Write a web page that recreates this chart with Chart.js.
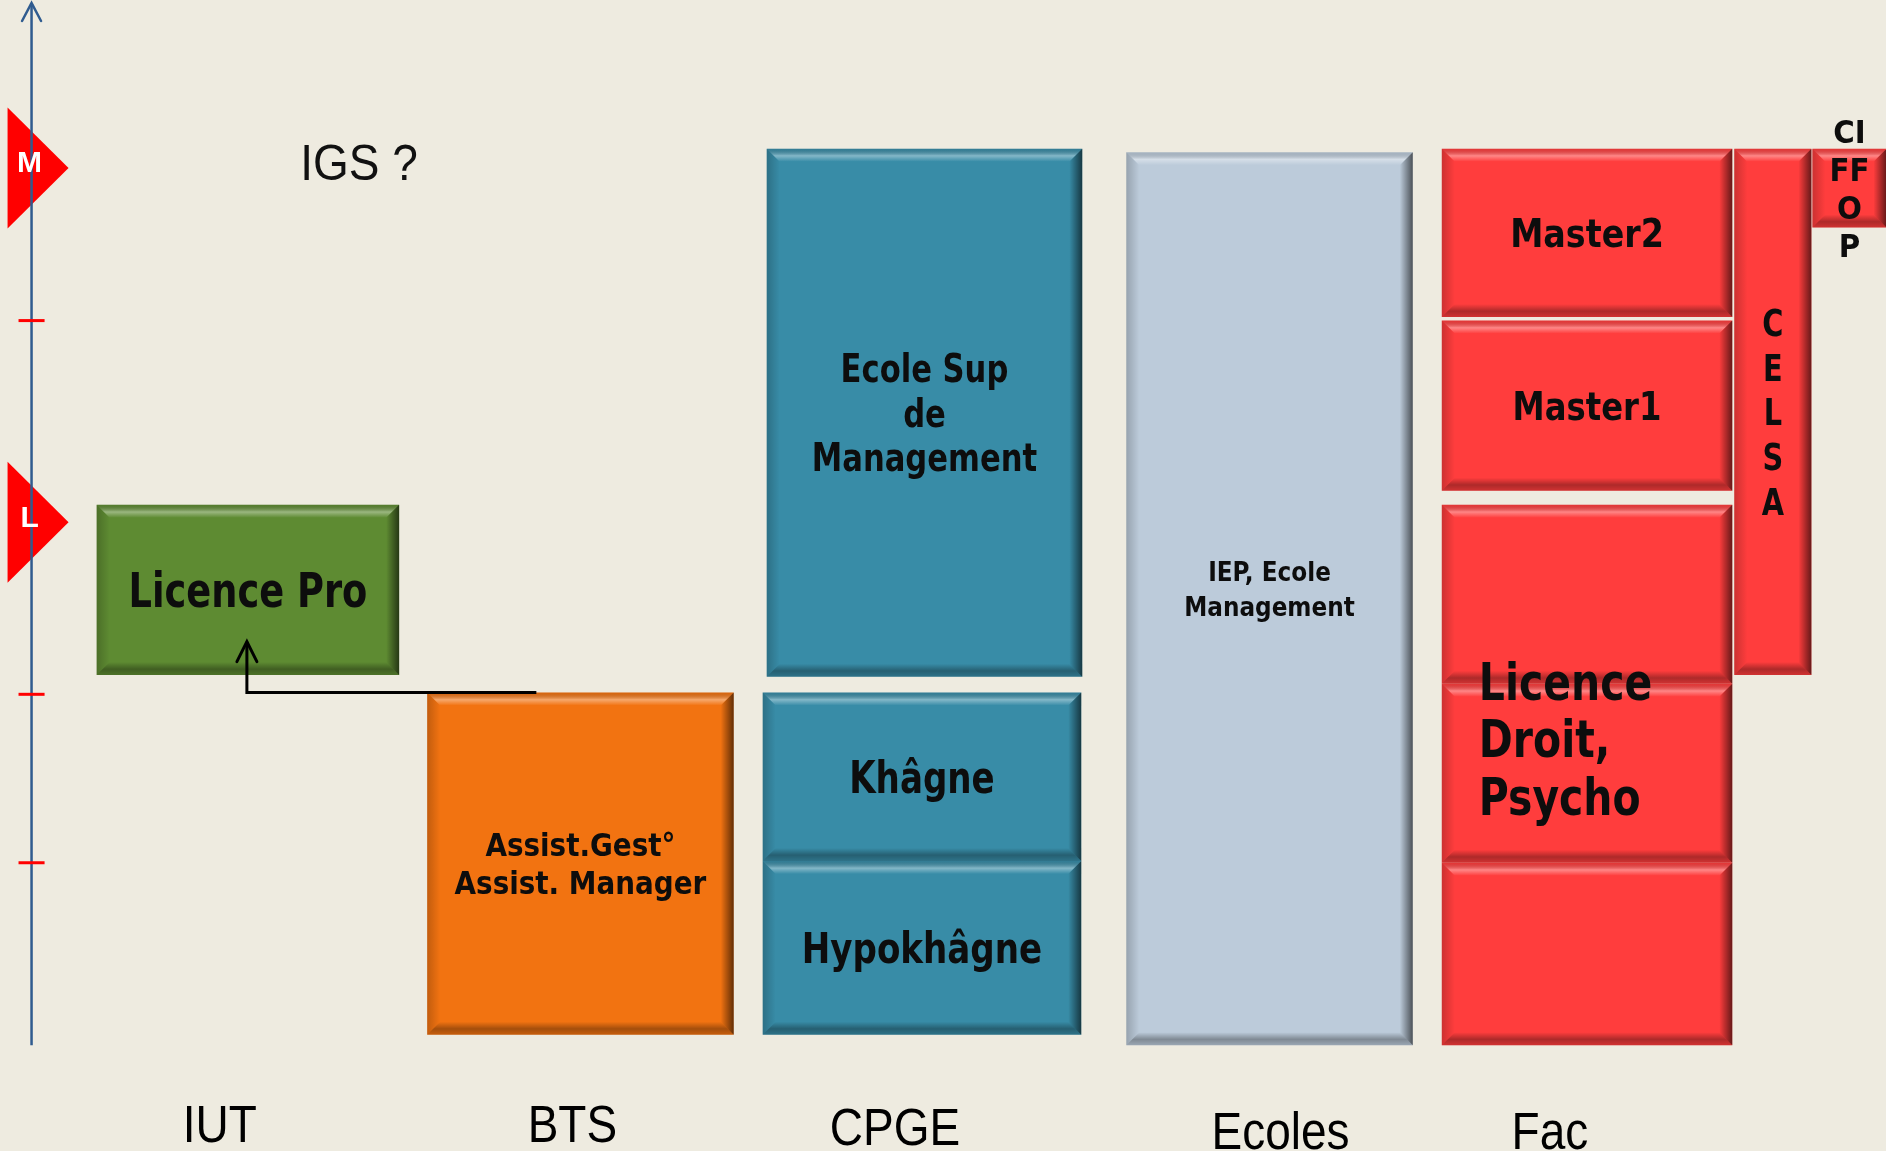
<!DOCTYPE html>
<html lang="fr"><head><meta charset="utf-8"><title>Parcours post-bac</title>
<script src="https://cdn.jsdelivr.net/npm/chart.js@4.4.1/dist/chart.umd.min.js"></script>
<style>
html,body{margin:0;padding:0;background:#EEEBE0;overflow:hidden;}
canvas{display:block;}
</style></head><body>
<canvas id="chart" width="1886" height="1151"></canvas>
<script>
// ---------------- DATA (x: column position units, y: years after bac) ----------------
const categories  = ['IUT', 'BTS', 'CPGE', 'Ecoles', 'Fac'];
const categoryX   = [2.21, 5.73, 8.95, 12.80, 15.49];
const categoryY   = [-0.554, -0.554, -0.566, -0.594, -0.594];

const blockNames  = ['Licence Pro', 'Assist.Gest° / Assist. Manager', 'Ecole Sup de Management', 'Khâgne', 'Hypokhâgne',
                     'IEP, Ecole Management', 'Master2', 'Master1', 'Licence 3', 'Licence 2', 'Licence 1', 'CELSA', 'CIFFOP'];
const blockColumn = ['IUT', 'BTS', 'CPGE', 'CPGE', 'CPGE', 'Ecoles', 'Fac', 'Fac', 'Fac', 'Fac', 'Fac', 'Fac', 'Fac'];
const blockXStart = [0.98, 4.28, 7.67, 7.63, 7.63, 11.26, 14.41, 14.41, 14.41, 14.41, 14.41, 17.33, 18.11];
const blockXEnd   = [4.00, 7.34, 10.82, 10.81, 10.81, 14.12, 17.31, 17.31, 17.31, 17.31, 17.31, 18.10, 18.85];
const blockYStart = [2.11, 0.06, 2.10, 1.05, 0.06, 0.00, 4.15, 3.16, 2.06, 1.04, 0.00, 2.11, 4.66];
const blockYEnd   = [3.08, 2.01, 5.11, 2.01, 1.05, 5.09, 5.11, 4.13, 3.08, 2.06, 1.04, 5.11, 5.11];
const blockText   = [['Licence Pro'], ['Assist.Gest°', 'Assist. Manager'], ['Ecole Sup', 'de', 'Management'],
                     ['Khâgne'], ['Hypokhâgne'], ['IEP, Ecole', 'Management'], ['Master2'], ['Master1'],
                     ['Licence', 'Droit,', 'Psycho'], [], [], ['C', 'E', 'L', 'S', 'A'], ['CI', 'FF', 'O', 'P']];

const levelTicks    = [1.04, 2.00, 4.13];
const levelMarkers  = ['L', 'M'];
const levelMarkerY  = [2.98, 5.00];
const axisX         = 0.33;
const axisY         = [0.00, 5.94];
const connectorX    = [5.37, 2.48, 2.48];
const connectorY    = [2.01, 2.01, 2.30];
const noteText      = 'IGS ?';
const noteX         = 3.60;
const noteY         = 4.93;

// ---------------- STYLES ----------------
const CW = 1886, CH = 1151;
const X_PX_PER_UNIT = 100, Y_PX_PER_UNIT = 175, Y_ZERO_PX = 1044;
const LINE_PAD = 1.5;            // Chart.js insets the chart area by half the thickest line width
const TICK_HALF = 0.13;          // half length of the red level ticks (x units)
const columnColors = { IUT: '#5E8B32', BTS: '#F27311', CPGE: '#388CA7', Ecoles: '#BCCBDA', Fac: '#FF3D3D' };
const LABEL_FONT = '"DejaVu Sans Condensed", "DejaVu Sans", sans-serif';
const SANS_FONT = '"Liberation Sans", Arial, sans-serif';
// w: ink width of widest line (px), cap: cap height (px), gap: baseline spacing (px)
const labelStyle = [
  { w: 234, cap: 35 },
  { w: 252, cap: 23, gap: 38 },
  { w: 222, cap: 28.5, gap: 44.5 },
  { w: 141, cap: 32 },
  { w: 236, cap: 30 },
  { w: 168, cap: 21, gap: 35, dy: -11 },
  { w: 148, cap: 28.6 },
  { w: 144, cap: 28.6 },
  { w: 168, cap: 38.5, gap: 57.5, align: 'left', inset: 37, firstBaseline: 195 },
  null, null,
  { size: 32, cap: 27, gap: 44.8 },
  { w: 35, cap: 23, gap: 38 }
];
const AXIS_COLOR = '#2F5B8F';
const MARK_RED = '#FF0000';

// ---------------- helpers ----------------
function poly(ctx, pts, fill) {
  ctx.beginPath();
  ctx.moveTo(pts[0][0], pts[0][1]);
  for (let i = 1; i < pts.length; i++) ctx.lineTo(pts[i][0], pts[i][1]);
  ctx.closePath();
  ctx.fillStyle = fill;
  ctx.fill();
}
function drawBevel(ctx, l, t, r, b, s) {
  ctx.save();
  let g = ctx.createLinearGradient(0, t, 0, t + s);
  g.addColorStop(0, 'rgba(0,0,0,0.10)');
  g.addColorStop(0.55, 'rgba(255,255,255,0.38)');
  g.addColorStop(1, 'rgba(255,255,255,0)');
  poly(ctx, [[l, t], [r, t], [r - s, t + s], [l + s, t + s]], g);
  g = ctx.createLinearGradient(0, b - s, 0, b);
  g.addColorStop(0, 'rgba(0,0,0,0)');
  g.addColorStop(0.55, 'rgba(0,0,0,0.32)');
  g.addColorStop(1, 'rgba(0,0,0,0.18)');
  poly(ctx, [[l, b], [r, b], [r - s, b - s], [l + s, b - s]], g);
  g = ctx.createLinearGradient(r - s, 0, r, 0);
  g.addColorStop(0, 'rgba(0,0,0,0)');
  g.addColorStop(1, 'rgba(0,0,0,0.6)');
  poly(ctx, [[r, t], [r, b], [r - s, b - s], [r - s, t + s]], g);
  g = ctx.createLinearGradient(l, 0, l + s, 0);
  g.addColorStop(0, 'rgba(0,0,0,0.2)');
  g.addColorStop(1, 'rgba(0,0,0,0)');
  poly(ctx, [[l, t], [l, b], [l + s, b - s], [l + s, t + s]], g);
  ctx.restore();
}
function drawStretched(ctx, lines, font, color, x, firstBaseline, gap, sy, align) {
  ctx.save();
  ctx.font = font;
  ctx.fillStyle = color;
  ctx.textAlign = align || 'center';
  ctx.textBaseline = 'alphabetic';
  lines.forEach((ln, k) => {
    ctx.save();
    ctx.translate(x, firstBaseline + k * (gap || 0));
    ctx.scale(1, sy);
    ctx.fillText(ln, 0, 0);
    ctx.restore();
  });
  ctx.restore();
}
function inkWidth(ctx, s) {
  const m = ctx.measureText(s);
  return m.actualBoundingBoxLeft + m.actualBoundingBoxRight;
}
function barBox(el) {
  const p = el.getProps(['x', 'y', 'base', 'width'], true);
  return { l: p.x - p.width / 2, r: p.x + p.width / 2, t: Math.min(p.y, p.base), b: Math.max(p.y, p.base) };
}

// ---------------- plugin ----------------
const diagramPlugin = {
  id: 'diagram',
  beforeDatasetsDraw(chart) {
    const ctx = chart.ctx, xs = chart.scales.x, ys = chart.scales.y;
    const ax = xs.getPixelForValue(axisX);
    ctx.save();
    levelMarkerY.forEach(v => {
      const cy = ys.getPixelForValue(v);
      poly(ctx, [[ax - 24, cy - 60.5], [ax - 24, cy + 60.5], [ax + 37, cy]], MARK_RED);
    });
    ctx.restore();
  },
  afterDatasetDraw(chart, args) {
    const meta = args.meta;
    if (meta.type !== 'bar') return;
    meta.data.forEach(el => {
      const bx = barBox(el);
      drawBevel(chart.ctx, bx.l, bx.t, bx.r, bx.b, 13);
    });
  },
  afterDatasetsDraw(chart) {
    const ctx = chart.ctx, xs = chart.scales.x, ys = chart.scales.y;
    const ax = xs.getPixelForValue(axisX);
    // axis arrow head
    const tipY = ys.getPixelForValue(axisY[1]);
    ctx.save();
    ctx.strokeStyle = AXIS_COLOR; ctx.lineWidth = 2.5; ctx.lineCap = 'round';
    ctx.beginPath();
    ctx.moveTo(ax - 9.5, tipY + 18); ctx.lineTo(ax, tipY); ctx.lineTo(ax + 9.5, tipY + 18);
    ctx.stroke();
    // connector arrow head
    const cx = xs.getPixelForValue(connectorX[2]), cy = ys.getPixelForValue(connectorY[2]);
    ctx.strokeStyle = '#000'; ctx.lineWidth = 3;
    ctx.beginPath();
    ctx.moveTo(cx - 10, cy + 20); ctx.lineTo(cx, cy); ctx.lineTo(cx + 10, cy + 20);
    ctx.stroke();
    ctx.restore();
    // level marker letters
    levelMarkers.forEach((m, i) => {
      const y = ys.getPixelForValue(levelMarkerY[i]);
      ctx.save();
      ctx.font = 'bold 30px ' + SANS_FONT;
      ctx.fillStyle = '#FFFFFF'; ctx.textAlign = 'center'; ctx.textBaseline = 'middle';
      ctx.fillText(m, ax - 2, y - 4);
      ctx.restore();
    });
    // block labels
    blockText.forEach((lines, i) => {
      if (!lines.length) return;
      const st = labelStyle[i];
      const el = chart.getDatasetMeta(i).data[0];
      if (!el) return;
      const bx = barBox(el);
      ctx.save();
      ctx.font = 'bold 100px ' + LABEL_FONT;
      const maxW = Math.max(...lines.map(l => inkWidth(ctx, l)));
      const size = st.w ? 100 * st.w / maxW : st.size;
      const font = 'bold ' + size.toFixed(2) + 'px ' + LABEL_FONT;
      ctx.font = font;
      const capPx = ctx.measureText('H').actualBoundingBoxAscent;
      ctx.restore();
      const sy = st.cap / capPx;
      const gap = st.gap || 0;
      let x, first;
      if (st.align === 'left') {
        x = bx.l + st.inset;
        first = bx.t + st.firstBaseline;
      } else {
        x = (bx.l + bx.r) / 2;
        const c = (bx.t + bx.b) / 2 + (st.dy || 0);
        first = c - (st.cap + (lines.length - 1) * gap) / 2 + st.cap;
      }
      drawStretched(ctx, lines, font, '#0D0D0D', x, first, gap, sy, st.align);
    });
    // note
    drawStretched(ctx, [noteText], '46px ' + SANS_FONT, '#111111',
      xs.getPixelForValue(noteX), ys.getPixelForValue(noteY), 0, 1.08, 'center');
    // category labels
    categories.forEach((c, i) => {
      drawStretched(ctx, [c], '46px ' + SANS_FONT, '#000000',
        xs.getPixelForValue(categoryX[i]), ys.getPixelForValue(categoryY[i]), 0, 1.12, 'center');
    });
  }
};

// ---------------- datasets ----------------
const barDatasets = blockNames.map((name, i) => ({
  type: 'bar',
  label: name,
  data: [{ x: (blockXStart[i] + blockXEnd[i]) / 2, y: [blockYStart[i], blockYEnd[i]] }],
  backgroundColor: columnColors[blockColumn[i]],
  borderWidth: 0,
  borderSkipped: false,
  inflateAmount: 0,
  grouped: false,
  order: 10,
  barThickness: (c) => {
    const s = c.chart.scales.x;
    return Math.abs(s.getPixelForValue(blockXEnd[i]) - s.getPixelForValue(blockXStart[i]));
  }
}));

const tickDatasets = levelTicks.map(y => ({
  type: 'line', label: 'niveau ' + y,
  data: [{ x: axisX - TICK_HALF, y }, { x: axisX + TICK_HALF, y }],
  borderColor: MARK_RED, borderWidth: 3, pointRadius: 0, fill: false, tension: 0, order: 0
}));

const datasets = barDatasets.concat([
  {
    type: 'line', label: 'axe',
    data: axisY.map(y => ({ x: axisX, y })),
    borderColor: AXIS_COLOR, borderWidth: 2.5, pointRadius: 0, fill: false, tension: 0, order: 2
  },
  {
    type: 'line', label: 'passerelle',
    data: connectorX.map((x, i) => ({ x, y: connectorY[i] })),
    borderColor: '#000000', borderWidth: 3, pointRadius: 0, fill: false, tension: 0,
    borderJoinStyle: 'miter', order: 1
  }
], tickDatasets);

new Chart(document.getElementById('chart'), {
  type: 'bar',
  data: { datasets },
  options: {
    responsive: false,
    animation: false,
    events: [],
    layout: { padding: 0 },
    plugins: { legend: { display: false }, tooltip: { enabled: false } },
    scales: {
      x: { type: 'linear', display: false, offset: false,
           min: LINE_PAD / X_PX_PER_UNIT, max: (CW - LINE_PAD) / X_PX_PER_UNIT },
      y: { type: 'linear', display: false,
           min: (Y_ZERO_PX - (CH - LINE_PAD)) / Y_PX_PER_UNIT, max: (Y_ZERO_PX - LINE_PAD) / Y_PX_PER_UNIT }
    }
  },
  plugins: [diagramPlugin]
});
</script>
</body></html>
